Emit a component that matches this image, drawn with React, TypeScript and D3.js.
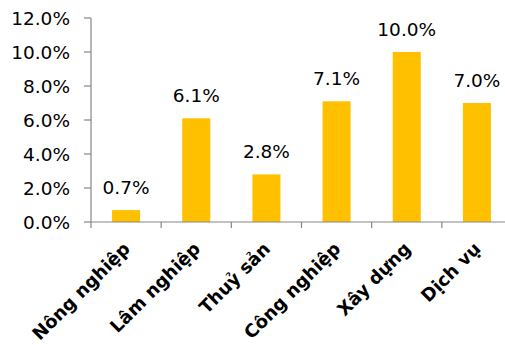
import * as d3 from "d3";

const CATEGORIES = ["Nông nghiệp", "Lâm nghiệp", "Thuỷ sản", "Công nghiệp", "Xây dựng", "Dịch vụ"];
const VALUES = [0.7, 6.1, 2.8, 7.1, 10.0, 7.0];
const Y_TICKS = [0, 2, 4, 6, 8, 10, 12];

const W = 505;
const H = 345;
const FONT = "Tahoma, 'DejaVu Sans', Verdana, sans-serif";

export default function App() {
  const left = 91;
  const top = 18;
  const bottom = 222;

  const x = d3.scaleBand<string>().domain(CATEGORIES).range([left, 512]).paddingInner(0.6).paddingOuter(0.3);
  const band = d3.scaleBand<string>().domain(CATEGORIES).range([left, 512]);
  const y = d3.scaleLinear().domain([0, 12]).range([bottom, top]);

  return (
    <div style={{ position: "absolute", left: 0, top: 0 }}>
      <svg width={W} height={H} style={{ display: "block", fontFamily: FONT }}>
        <rect width={W} height={H} fill="#fff" />

        {/* bars */}
        {CATEGORIES.map((c, i) => (
          <rect
            key={c}
            x={x(c)}
            y={y(VALUES[i])}
            width={x.bandwidth()}
            height={bottom - y(VALUES[i])}
            fill="#FFC000"
          />
        ))}

        {/* value labels */}
        {CATEGORIES.map((c, i) => (
          <text
            key={c}
            x={(x(c) ?? 0) + x.bandwidth() / 2}
            y={y(VALUES[i]) - 16}
            textAnchor="middle"
            fontSize={18.5}
            fill="#000"
          >
            {VALUES[i].toFixed(1)}%
          </text>
        ))}

        {/* y axis */}
        <line x1={left} x2={left} y1={top} y2={bottom} stroke="#868686" strokeWidth={1.2} />
        {Y_TICKS.map((t) => (
          <g key={t}>
            <line x1={left - 7} x2={left} y1={y(t)} y2={y(t)} stroke="#868686" strokeWidth={1.2} />
            <text x={70} y={y(t)} dy="0.36em" textAnchor="end" fontSize={18.5} fill="#000">
              {t.toFixed(1)}%
            </text>
          </g>
        ))}

        {/* x axis */}
        <line x1={left} x2={512} y1={bottom} y2={bottom} stroke="#868686" strokeWidth={1.2} />
        {CATEGORIES.map((c) => (
          <line
            key={c}
            x1={band(c)}
            x2={band(c)}
            y1={bottom}
            y2={bottom + 6}
            stroke="#868686"
            strokeWidth={1.2}
          />
        ))}
        {CATEGORIES.map((c) => {
          const cx = (band(c) ?? 0) + band.bandwidth() / 2 + 5;
          const cy = bottom + 28;
          return (
            <text
              key={c}
              transform={`translate(${cx},${cy}) rotate(-45)`}
              textAnchor="end"
              fontSize={18}
              fontWeight="bold"
              fill="#000"
            >
              {c}
            </text>
          );
        })}
      </svg>
    </div>
  );
}
